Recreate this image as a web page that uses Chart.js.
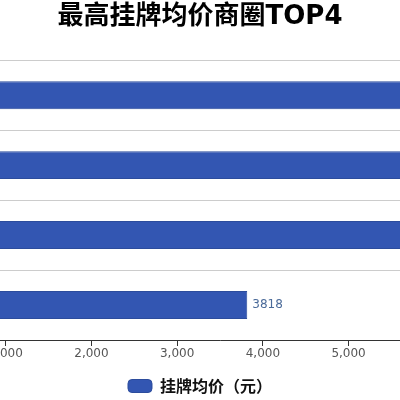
<!DOCTYPE html>
<html>
<head>
<meta charset="utf-8">
<script src="https://cdn.jsdelivr.net/npm/chart.js@4.4.0/dist/chart.umd.min.js"></script>
<style>
  html, body { margin: 0; padding: 0; overflow: hidden; background: #fff; }
  #wrap { position: absolute; left: -200px; top: 0; width: 800px; height: 404px; }
</style>
</head>
<body>
<div id="wrap"><canvas id="priceBar" width="800" height="404"></canvas></div>
<script>
// data (top three bars run off the right edge, values estimated)
const districts = ["商圈一", "商圈二", "商圈三", "商圈四"];
const avgPrice = [7650, 6420, 5980, 3818];
const xTicks = [0, 1000, 2000, 3000, 4000, 5000, 6000, 7000];

(() => {
  const ctx = document.getElementById("priceBar").getContext("2d");

  // value label at the end of each bar
  const barLabelPlugin = {
    id: "barLabel",
    afterDatasetsDraw: (chart) => {
      const ctx = chart.ctx;
      const meta = chart.getDatasetMeta(0);
      ctx.save();
      ctx.font = "12px 'DejaVu Sans'";
      ctx.fillStyle = "#4a6a99";
      ctx.textAlign = "left";
      ctx.textBaseline = "middle";
      meta.data.forEach((bar, i) => {
        ctx.fillText(String(avgPrice[i]), bar.x + 5, bar.y);
      });
      ctx.restore();
    },
  };

  new Chart(ctx, {
    type: "bar",
    data: {
      labels: districts,
      datasets: [{
        label: "挂牌均价（元）",
        data: avgPrice,
        backgroundColor: "#3356b2",
        borderColor: "#2c4c9c",
        borderWidth: 1,
        categoryPercentage: 0.8,
        barPercentage: 0.5,
      }]
    },
    options: {
      indexAxis: "y",
      responsive: false,
      animation: false,
      layout: { padding: { left: 80, right: 80, top: 0, bottom: 0 } },
      plugins: {
        title: {
          display: true,
          text: "最高挂牌均价商圈TOP4",
          color: "#000",
          font: { size: 26, weight: "bold", family: "'DejaVu Sans', 'Noto Sans CJK SC'" },
          padding: { top: 2, bottom: 27 },
        },
        legend: {
          display: true,
          position: "bottom",
          labels: {
            color: "#111",
            font: { size: 16, weight: "bold", family: "'Noto Sans CJK SC', 'DejaVu Sans'" },
            boxWidth: 24,
            boxHeight: 13,
            useBorderRadius: true,
            borderRadius: 4,
            padding: 2,
          },
        },
        tooltip: { enabled: false },
      },
      scales: {
        x: {
          min: 0,
          max: 7000,
          afterBuildTicks: (scale) => {
            scale.ticks = xTicks.map((v) => ({ value: v }));
          },
          afterFit: (scale) => { scale.height = 36; },
          grid: {
            drawOnChartArea: false,
            drawTicks: true,
            tickLength: 6,
            color: "#333",
          },
          border: { display: true, color: "#333", width: 1 },
          ticks: {
            color: "#555",
            padding: 1,
            font: { size: 12, family: "'DejaVu Sans'" },
            callback: (v) => v.toLocaleString("en-US"),
          },
        },
        y: {
          afterFit: (scale) => { scale.width = 40; },
          grid: {
            color: "#cccccc",
            drawTicks: false,
          },
          border: { display: false },
          ticks: {
            color: "#555",
            font: { size: 12, family: "'Noto Sans CJK SC'" },
          },
        },
      },
    },
    plugins: [barLabelPlugin],
  });
})();
</script>
</body>
</html>
